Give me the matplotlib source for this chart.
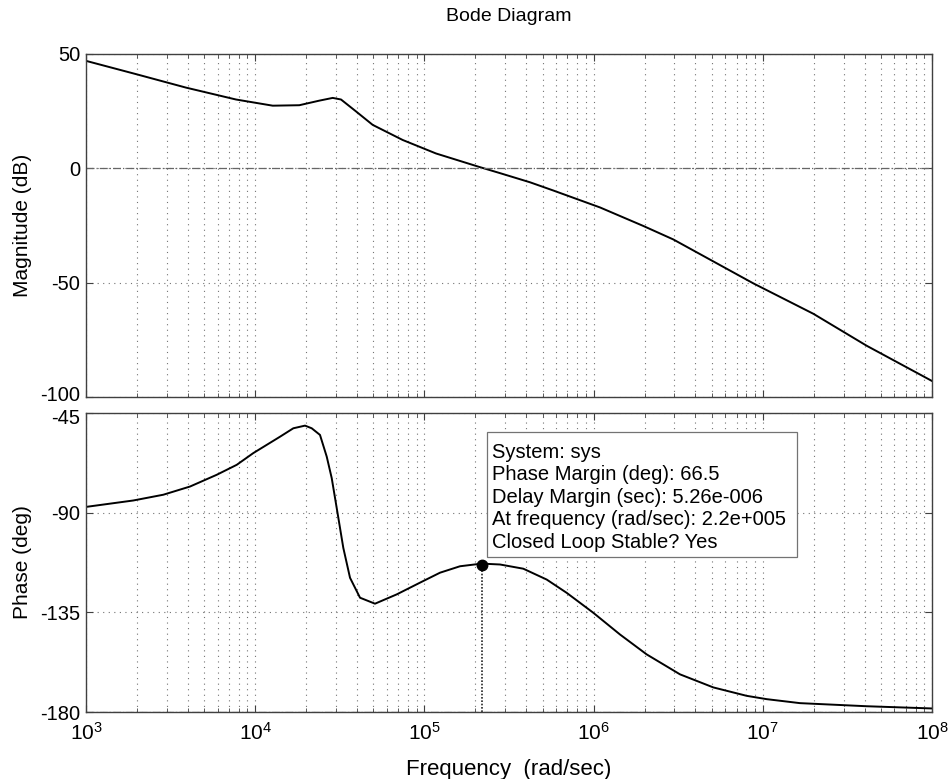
import numpy as np
import matplotlib
matplotlib.use("Agg")
import matplotlib.pyplot as plt
from matplotlib.patches import Rectangle
from matplotlib.transforms import ScaledTranslation

plt.rcParams['font.family'] = ['Liberation Sans', 'DejaVu Sans']
plt.rcParams['mathtext.fontset'] = 'custom'
plt.rcParams['mathtext.rm'] = 'Liberation Sans'
plt.rcParams['mathtext.it'] = 'Liberation Sans:italic'
plt.rcParams['axes.unicode_minus'] = False

# magnitude curve (rad/sec, dB)
mag_w = [1.0e3, 1.975e3, 3.9e3, 7.7e3, 1.269e4, 1.822e4, 2.392e4, 2.871e4,
         3.215e4, 3.942e4, 4.948e4, 7.442e4, 1.171e5, 2.112e5, 2.798e5,
         4.209e5, 5.78e5, 1.091e6, 1.967e6, 2.959e6, 5.099e6, 8.788e6,
         1.989e7, 4.114e7, 1.0e8]
mag_db = [47.0, 41.2, 35.3, 30.1, 27.4, 27.6, 29.6, 30.8,
          30.1, 24.9, 19.0, 12.4, 6.5, 0.6, -2.1,
          -6.1, -9.7, -17.1, -25.2, -31.1, -40.7, -50.3,
          -63.6, -77.6, -93.0]

# phase curve (rad/sec, deg)
ph_w = [1.0e3, 1.904e3, 2.864e3, 4.119e3, 5.923e3, 7.777e3, 9.745e3, 1.402e4,
        1.68e4, 1.97e4, 2.158e4, 2.415e4, 2.647e4, 2.833e4, 3.032e4, 3.317e4,
        3.634e4, 4.164e4, 5.105e4, 6.86e4, 9.419e4, 1.237e5, 1.623e5, 2.181e5,
        2.798e5, 3.842e5, 5.282e5, 6.934e5, 9.959e5, 1.432e6, 2.06e6, 3.241e6,
        5.099e6, 8.03e6, 1.054e7, 1.659e7, 4.114e7, 1.0e8]
ph_deg = [-87.4, -84.5, -81.9, -78.2, -72.9, -68.4, -63.1, -55.7,
          -51.9, -50.7, -51.9, -54.9, -64.7, -74.4, -87.9, -105.9,
          -119.4, -128.4, -131.1, -126.9, -121.6, -117.1, -114.2, -113.0,
          -113.4, -115.3, -120.2, -126.2, -135.2, -145.0, -154.0, -163.0,
          -168.9, -172.7, -174.2, -176.0, -177.4, -178.4]

pm_w = 2.2e5
pm_phase = -180 + 66.5
info = ["System: sys",
        "Phase Margin (deg): 66.5",
        "Delay Margin (sec): 5.26e-006",
        "At frequency (rad/sec): 2.2e+005",
        "Closed Loop Stable? Yes"]

W, H = 951, 779
fig = plt.figure(figsize=(W / 100, H / 100), dpi=100)
ax1 = fig.add_axes([86 / W, 1 - 397 / H, 846 / W, 343 / H])
ax2 = fig.add_axes([86 / W, 1 - 712 / H, 846 / W, 299 / H])

grid_style = dict(linestyle=(0, (1, 4)), color='0.45', linewidth=0.8)
for ax in (ax1, ax2):
    ax.set_xscale('log')
    ax.set_xlim(1e3, 1e8)
    ax.grid(True, which='major', axis='both', **grid_style)
    ax.grid(True, which='minor', axis='x', **grid_style)
    ax.tick_params(which='both', direction='in', top=True, right=True,
                   labelsize=15, color='0.25')
    ax.tick_params(axis='y', pad=4, labelsize=14.5)
    ax.tick_params(axis='x', pad=7)
    ax.tick_params(which='major', length=5)
    ax.tick_params(which='minor', length=3)
    for s in ax.spines.values():
        s.set_color('0.25')
        s.set_linewidth(1.0)

ax1.plot(mag_w, mag_db, color='black', linewidth=1.4)
ax1.axhline(0, color='0.4', linestyle='-.', linewidth=0.9)
ax1.set_ylim(-100, 50)
ax1.set_yticks([-100, -50, 0, 50])
ax1.tick_params(labelbottom=False)
ax1.set_ylabel("Magnitude (dB)", fontsize=15)
ax1.yaxis.set_label_coords(-54 / 846, 0.5)
ax1.set_title("Bode Diagram", fontsize=14, pad=24)

ax2.plot(ph_w, ph_deg, color='black', linewidth=1.4)
ax2.axhline(-180, color='0.4', linestyle='-.', linewidth=0.9)
ax2.set_ylim(-180, -45)
ax2.set_yticks([-180, -135, -90, -45])
ax2.set_ylabel("Phase (deg)", fontsize=15)
ax2.yaxis.set_label_coords(-54 / 846, 0.5)
ax2.set_xlabel("Frequency  (rad/sec)", fontsize=16, labelpad=11)

# nudge the two crowded tick labels where the panels meet
lab_low = ax1.yaxis.get_major_ticks()[0].label1
lab_low.set_transform(lab_low.get_transform() + ScaledTranslation(0, 2.5 / 72, fig.dpi_scale_trans))
lab_high = ax2.yaxis.get_major_ticks()[-1].label1
lab_high.set_transform(lab_high.get_transform() + ScaledTranslation(0, -2.5 / 72, fig.dpi_scale_trans))

ax2.plot([pm_w, pm_w], [-180, pm_phase], color='0.15', linestyle=(0, (1, 1)), linewidth=1.2)
ax2.plot([pm_w], [pm_phase], 'o', color='black', markersize=7.5, zorder=6)

# data-tip box (axes fraction coordinates)
bx0, by0 = (487 - 86) / 846, (712 - 557) / 299
ax2.add_patch(Rectangle((bx0, by0), 310 / 846, 125 / 299, transform=ax2.transAxes,
                        facecolor='white', edgecolor='0.45', linewidth=0.9, zorder=4))
for i, line in enumerate(info):
    yb = 457.5 + 22.6 * i
    ax2.text((492 - 86) / 846, (712 - yb) / 299, line, transform=ax2.transAxes,
             fontsize=14.5, ha='left', va='baseline', zorder=5)

fig.savefig("out.png", dpi=100)
